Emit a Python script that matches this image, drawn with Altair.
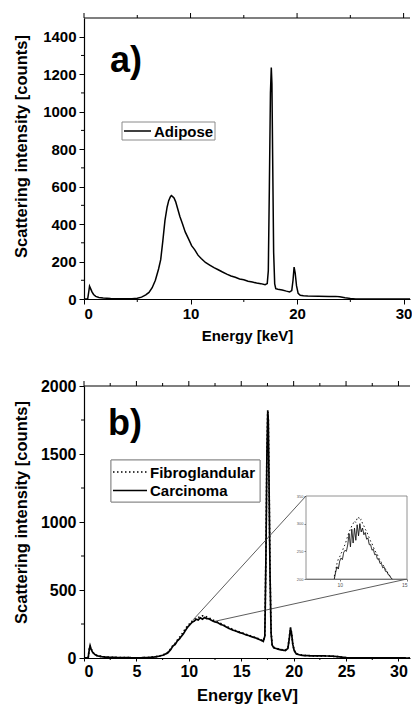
import altair as alt
import pandas as pd

FONT = "Liberation Sans"

# ---------------- data: panel a (Adipose) ----------------
a_series = ["Adipose"]
a_energy = [0, 0.35, 0.45, 0.52, 0.6, 0.75, 0.9, 1.1, 1.4, 1.8,
            2.5, 3.5, 4.5, 5.0, 5.4, 5.8, 6.1, 6.4, 6.7, 7.0,
            7.2, 7.4, 7.6, 7.8, 7.95, 8.1, 8.2, 8.3, 8.45, 8.6,
            8.8, 9.0, 9.25, 9.5, 9.8, 10.1, 10.4, 10.7, 11.0, 11.4,
            11.8, 12.2, 12.6, 13.0, 13.4, 13.8, 14.2, 14.6, 15.0, 15.4,
            15.8, 16.2, 16.6, 17.0, 17.2, 17.3, 17.4, 17.5, 17.58, 17.64,
            17.7, 17.8, 17.9, 18.0, 18.2, 18.6, 19.0, 19.3, 19.5, 19.62,
            19.72, 19.82, 19.95, 20.1, 20.3, 20.6, 21.0, 22.0, 23.0, 23.6,
            24.0, 24.5, 25.0, 25.5, 31.4]
a_counts = [0, 2, 40, 68, 58, 38, 24, 14, 8, 5,
            3, 2, 2, 4, 10, 22, 35, 60, 100, 160,
            210, 310, 420, 490, 525, 545, 552, 548, 540, 520,
            480, 440, 400, 358, 322, 285, 262, 234, 216, 195,
            181, 167, 156, 144, 133, 123, 116, 107, 103, 95,
            91, 85, 82, 76, 82, 150, 600, 1100, 1236, 1150,
            800, 250, 80, 55, 52, 48, 42, 38, 45, 100,
            170, 140, 70, 30, 20, 17, 16, 15, 14, 14,
            12, 7, 3, 0, 0]

# ---------------- data: panel b (Fibroglandular / Carcinoma) ----------------
b_series = ["Fibroglandular", "Carcinoma"]
b_energy = [0, 0.4, 0.5, 0.58, 0.66, 0.8, 1.0, 1.3, 1.8, 2.5,
            3.5, 4.5, 5.5, 6.2, 6.8, 7.2, 7.6, 8.0, 8.3, 8.5,
            8.7, 8.9, 9.1, 9.3, 9.5, 9.7, 9.9, 10.1, 10.3, 10.5,
            10.7, 10.9, 11.1, 11.3, 11.5, 11.7, 11.9, 12.1, 12.4, 12.7,
            13.0, 13.3, 13.6, 13.9, 14.2, 14.5, 14.8, 15.1, 15.4, 15.7,
            16.0, 16.3, 16.6, 16.9, 17.1, 17.25, 17.35, 17.45, 17.53, 17.58,
            17.65, 17.75, 17.85, 17.95, 18.1, 18.4, 18.8, 19.2, 19.45, 19.58,
            19.7, 19.8, 19.92, 20.05, 20.25, 20.6, 21.0, 22.0, 23.0, 23.6,
            24.2, 24.7, 25.2, 31.9]
b_carcinoma = [0, 2, 60, 90, 70, 45, 28, 15, 8, 5,
               3, 2, 2, 4, 8, 14, 22, 38, 65, 90,
               100, 125, 140, 160, 180, 205, 228, 245, 262, 270,
               285, 280, 295, 285, 298, 290, 288, 280, 268, 262,
               248, 240, 226, 215, 205, 198, 188, 182, 172, 165,
               156, 150, 140, 130, 122, 160, 700, 1500, 1810, 1750,
               1300, 600, 180, 95, 75, 68, 60, 55, 70, 140,
               220, 180, 100, 55, 30, 22, 18, 15, 15, 14,
               10, 5, 1, 0]
b_fibro = [0, 3, 65, 92, 72, 46, 27, 16, 9, 5,
           3, 2, 2, 4, 9, 15, 25, 42, 70, 95,
           108, 130, 150, 170, 195, 215, 240, 252, 270, 282,
           290, 298, 305, 310, 308, 302, 295, 288, 275, 265,
           255, 242, 232, 220, 210, 200, 192, 184, 176, 167,
           160, 151, 143, 133, 125, 165, 720, 1520, 1825, 1760,
           1320, 620, 190, 98, 78, 70, 62, 57, 72, 145,
           225, 185, 102, 57, 32, 23, 19, 16, 15, 14,
           10, 5, 1, 0]

# ---------------- data: inset (zoom of the 10-14 keV hump) ----------------
inset_energy = [9.6, 9.7, 9.8, 9.9, 10.0, 10.1, 10.2, 10.3, 10.4, 10.5,
                10.6, 10.7, 10.8, 10.9, 11.0, 11.1, 11.2, 11.3, 11.4, 11.5,
                11.6, 11.7, 11.8, 11.9, 12.0, 12.1, 12.2, 12.3, 12.4, 12.5,
                12.6, 12.7, 12.8, 12.9, 13.0, 13.1, 13.2, 13.3, 13.4, 13.5,
                13.6, 13.7, 13.8, 13.9]
inset_carcinoma = [200, 212, 222, 218, 232, 238, 235, 248, 252, 250,
                   262, 282, 258, 290, 265, 292, 270, 298, 278, 300,
                   285, 292, 280, 284, 272, 274, 262, 262, 252, 254,
                   244, 245, 236, 236, 228, 228, 220, 222, 214, 214,
                   208, 207, 202, 200]
inset_fibro = [205, 215, 228, 236, 240, 246, 250, 258, 262, 270,
               278, 285, 290, 296, 300, 305, 302, 310, 312, 306,
               308, 300, 296, 290, 286, 280, 274, 268, 264, 258,
               252, 248, 244, 238, 234, 230, 226, 222, 218, 214,
               210, 206, 203, 201]

# connector anchor points on the main curve
conn_energy = [10.4, 12.5]
conn_counts = [280, 270]

# ticks
a_x_ticks = [0, 10, 20, 30]
a_x_minor = [5, 15, 25]
a_y_ticks = [0, 200, 400, 600, 800, 1000, 1200, 1400]
a_y_minor = [100, 300, 500, 700, 900, 1100, 1300]
b_x_ticks = [0, 5, 10, 15, 20, 25, 30]
b_x_minor = [2.5, 7.5, 12.5, 17.5, 22.5, 27.5]
b_y_ticks = [0, 500, 1000, 1500, 2000]
b_y_minor = [250, 750, 1250, 1750]
inset_x_ticks = [10, 15]
inset_y_ticks = [200, 250, 300, 350]

# ---------------- layout constants ----------------
W = 326
HA = 281
HB = 272
A_XDOM = [0, 30.6]
A_YDOM = [0, 1500]
B_XDOM = [0, 31.1]
B_YDOM = [0, 2000]
INSET_X_DOMAIN = [7.5, 15]
INSET_Y_DOMAIN = [200, 350]
INSET_X_RANGE = [222, 323]
INSET_Y_RANGE = [193, 110]

DASH_RANGE = [[1.5, 2.5], [1, 0]]

ax_style = dict(grid=False, labelFont=FONT, labelFontWeight="bold", titleFont=FONT,
                titleFontWeight="bold", labelColor="black", titleColor="black",
                tickColor="black", domainColor="black", domainWidth=1.2, format="d")

# ================= panel a =================
df_a = pd.DataFrame({"energy": a_energy, "counts": a_counts, "series": a_series[0]})

xa = alt.X("energy:Q", scale=alt.Scale(domain=A_XDOM, nice=False, zero=False),
           axis=alt.Axis(values=a_x_ticks, title="Energy [keV]", labelFontSize=15,
                         titleFontSize=15, tickSize=5, labelPadding=2, titlePadding=7,
                         **ax_style))
ya = alt.Y("counts:Q", scale=alt.Scale(domain=A_YDOM, nice=False),
           axis=alt.Axis(values=a_y_ticks, title="Scattering intensity [counts]",
                         labelFontSize=15, titleFontSize=16.5, tickSize=5, labelPadding=3,
                         titlePadding=13, titleY=128, **ax_style))

line_a = alt.Chart(df_a).mark_line(color="black", strokeWidth=1.5, clip=True).encode(x=xa, y=ya)

top_border_a = alt.Chart(pd.DataFrame({"energy": A_XDOM[:1]})).mark_rule(
    color="black", strokeWidth=1.2).encode(x=alt.value(0), x2=alt.value(W), y=alt.value(0))
top_major_a = alt.Chart(pd.DataFrame({"energy": a_x_ticks})).mark_rule(color="black").encode(
    x=xa, y=alt.value(0), y2=alt.value(-5))
top_minor_a = alt.Chart(pd.DataFrame({"energy": a_x_minor})).mark_rule(color="black").encode(
    x=xa, y=alt.value(0), y2=alt.value(-3))
bot_minor_a = alt.Chart(pd.DataFrame({"energy": a_x_minor})).mark_rule(color="black").encode(
    x=xa, y=alt.value(HA), y2=alt.value(HA + 3))
left_minor_a = alt.Chart(pd.DataFrame({"counts": a_y_minor})).mark_rule(color="black").encode(
    y=ya, x=alt.value(0), x2=alt.value(-3))

label_a = alt.Chart(pd.DataFrame({"t": ["a)"]})).mark_text(
    font=FONT, fontWeight="bold", fontSize=36, align="left", baseline="alphabetic",
    color="black").encode(x=alt.value(26), y=alt.value(54), text="t:N")

leg_a_box = alt.Chart(pd.DataFrame({"t": a_series})).mark_rect(
    fill="white", stroke="#8a8a8a", strokeWidth=1).encode(
    x=alt.value(38), x2=alt.value(131), y=alt.value(104), y2=alt.value(122))
leg_a_line = alt.Chart(pd.DataFrame({"t": a_series})).mark_rule(
    color="black", strokeWidth=1.5).encode(x=alt.value(40), x2=alt.value(67), y=alt.value(113))
leg_a_text = alt.Chart(pd.DataFrame({"t": a_series})).mark_text(
    font=FONT, fontWeight="bold", fontSize=15, align="left", baseline="middle",
    color="black").encode(x=alt.value(70), y=alt.value(113.5), text="t:N")

panel_a = alt.layer(line_a, top_border_a, top_major_a, top_minor_a, bot_minor_a, left_minor_a,
                    label_a, leg_a_box, leg_a_line, leg_a_text).properties(width=W, height=HA)

# ================= panel b =================
df_b = pd.concat([
    pd.DataFrame({"energy": b_energy, "counts": b_fibro, "series": b_series[0]}),
    pd.DataFrame({"energy": b_energy, "counts": b_carcinoma, "series": b_series[1]}),
])
df_inset = pd.concat([
    pd.DataFrame({"energy": inset_energy, "counts": inset_fibro, "series": b_series[0]}),
    pd.DataFrame({"energy": inset_energy, "counts": inset_carcinoma, "series": b_series[1]}),
])

dash = alt.StrokeDash("series:N", scale=alt.Scale(domain=b_series, range=DASH_RANGE), legend=None)

xb = alt.X("energy:Q", scale=alt.Scale(domain=B_XDOM, nice=False, zero=False),
           axis=alt.Axis(values=b_x_ticks, title="Energy [keV]", labelFontSize=16,
                         titleFontSize=16.5, tickSize=3, labelPadding=2, titlePadding=8,
                         **ax_style))
yb = alt.Y("counts:Q", scale=alt.Scale(domain=B_YDOM, nice=False),
           axis=alt.Axis(values=b_y_ticks, title="Scattering intensity [counts]",
                         labelFontSize=16, titleFontSize=16.5, tickSize=5, labelPadding=3,
                         titlePadding=11, titleY=126, **ax_style))

line_b = alt.Chart(df_b).mark_line(color="black", strokeWidth=1.7, clip=True).encode(
    x=xb, y=yb, strokeDash=dash, order=alt.Order("series:N", sort="descending"))

top_border_b = alt.Chart(pd.DataFrame({"energy": B_XDOM[:1]})).mark_rule(
    color="black", strokeWidth=1.2).encode(x=alt.value(0), x2=alt.value(W), y=alt.value(0))
top_major_b = alt.Chart(pd.DataFrame({"energy": b_x_ticks})).mark_rule(color="black").encode(
    x=xb, y=alt.value(0), y2=alt.value(-5))
top_minor_b = alt.Chart(pd.DataFrame({"energy": b_x_minor})).mark_rule(color="black").encode(
    x=xb, y=alt.value(0), y2=alt.value(-3))
bot_minor_b = alt.Chart(pd.DataFrame({"energy": b_x_minor})).mark_rule(color="black").encode(
    x=xb, y=alt.value(HB), y2=alt.value(HB + 2))
left_minor_b = alt.Chart(pd.DataFrame({"counts": b_y_minor})).mark_rule(color="black").encode(
    y=yb, x=alt.value(0), x2=alt.value(-3))

conn1 = alt.Chart(pd.DataFrame({"energy": conn_energy[:1], "counts": conn_counts[:1]})).mark_rule(
    color="#333", strokeWidth=0.8).encode(
    x=xb, y=yb, x2=alt.value(INSET_X_RANGE[0]), y2=alt.value(INSET_Y_RANGE[1]))
conn2 = alt.Chart(pd.DataFrame({"energy": conn_energy[1:], "counts": conn_counts[1:]})).mark_rule(
    color="#333", strokeWidth=0.8).encode(
    x=xb, y=yb, x2=alt.value(INSET_X_RANGE[1]), y2=alt.value(INSET_Y_RANGE[0]))

label_b = alt.Chart(pd.DataFrame({"t": ["b)"]})).mark_text(
    font=FONT, fontWeight="bold", fontSize=36, align="left", baseline="alphabetic",
    color="black").encode(x=alt.value(24), y=alt.value(49), text="t:N")

leg_b_box = alt.Chart(pd.DataFrame({"t": b_series})).mark_rect(
    fill="white", stroke="#8a8a8a", strokeWidth=1).encode(
    x=alt.value(27), x2=alt.value(176), y=alt.value(74), y2=alt.value(116))
leg_b_layers = []
for i, name in enumerate(b_series):
    yy = 86 + i * 18.5
    leg_b_layers.append(
        alt.Chart(pd.DataFrame({"t": [name]})).mark_rule(
            color="black", strokeWidth=1.5, strokeDash=DASH_RANGE[i]).encode(
            x=alt.value(29), x2=alt.value(63), y=alt.value(yy)))
    leg_b_layers.append(
        alt.Chart(pd.DataFrame({"t": [name]})).mark_text(
            font=FONT, fontWeight="bold", fontSize=15, align="left", baseline="middle",
            color="black").encode(x=alt.value(66), y=alt.value(yy + 0.5), text="t:N"))

main_b = alt.layer(line_b, top_border_b, top_major_b, top_minor_b, bot_minor_b, left_minor_b,
                   conn1, conn2, label_b, leg_b_box, *leg_b_layers)

# ---- inset ----
inset_ax = dict(grid=False, labelFont=FONT, labelColor="#555", tickColor="#777",
                domainColor="#777", tickSize=2, labelPadding=1, title=None)
xi = alt.X("energy:Q", scale=alt.Scale(domain=INSET_X_DOMAIN, range=INSET_X_RANGE, nice=False, zero=False),
           axis=alt.Axis(orient="bottom", offset=-(HB - INSET_Y_RANGE[0]), values=inset_x_ticks,
                         labelFontSize=5, **inset_ax))
yi = alt.Y("counts:Q", scale=alt.Scale(domain=INSET_Y_DOMAIN, range=INSET_Y_RANGE, nice=False, zero=False),
           axis=alt.Axis(orient="left", offset=-INSET_X_RANGE[0], values=inset_y_ticks,
                         labelFontSize=4, **inset_ax))

inset_frame = alt.Chart(pd.DataFrame({
    "energy": [INSET_X_DOMAIN[0]], "energy2": [INSET_X_DOMAIN[1]],
    "counts": [INSET_Y_DOMAIN[0]], "counts2": [INSET_Y_DOMAIN[1]]})).mark_rect(
    fill="white", stroke="#777", strokeWidth=0.8).encode(
    x=xi, x2="energy2:Q", y=yi, y2="counts2:Q")
inset_lines = alt.Chart(df_inset).mark_line(color="black", strokeWidth=0.9).encode(
    x=xi, y=yi, strokeDash=dash, order=alt.Order("series:N", sort="descending"))

inset = alt.layer(inset_frame, inset_lines)

panel_b = alt.layer(main_b, inset).resolve_scale(x="independent", y="independent").properties(
    width=W, height=HB)

chart = alt.vconcat(panel_a, panel_b, spacing=35).configure(
    font=FONT, padding={"left": 5, "top": 4, "right": 0, "bottom": 0}
).configure_view(stroke=None)

chart.save("out.html", embed_options={"renderer": "svg", "actions": False})
